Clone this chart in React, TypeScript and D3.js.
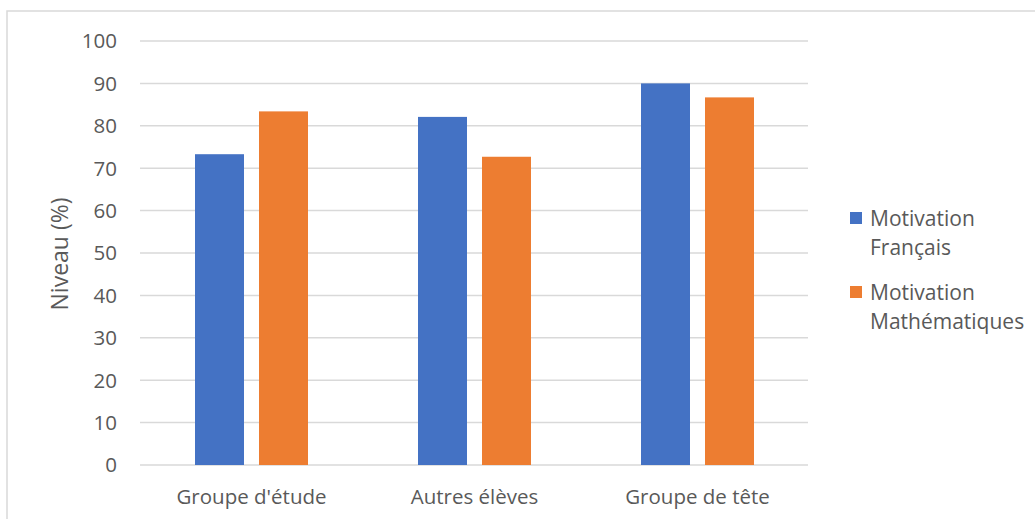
import React from "react";
import * as d3 from "d3";

const categories = ["Groupe d'étude", "Autres élèves", "Groupe de tête"];
const seriesNames = ["Motivation Français", "Motivation Mathématiques"];
const legendLines = [["Motivation", "Français"], ["Motivation", "Mathématiques"]];
const francais = [73.3, 82.1, 90.0];
const maths = [83.4, 72.7, 86.7];
const yTicks = [0, 10, 20, 30, 40, 50, 60, 70, 80, 90, 100];
const colors = ["#4472C4", "#ED7D31"];

const W = 1035;
const H = 519;
const FONT = "'Segoe UI', 'Open Sans', 'Noto Sans', sans-serif";
const TEXT = "#595959";

export default function App() {
  const left = 140;
  const right = 809;
  const top = 41;
  const bottom = 465;
  const x = d3.scaleBand<string>().domain(categories).range([left, right]).paddingInner(0).paddingOuter(0);
  const y = d3.scaleLinear().domain([0, 100]).range([bottom, top]);
  const series = [francais, maths];
  const barW = 49;
  const gap = 15;
  const groupW = barW * 2 + gap;

  return (
    <svg width={W} height={H} style={{ position: "absolute", left: 0, top: 0, display: "block" }}>
      <rect x={0} y={0} width={W} height={H} fill="#fff" />
      <rect x={7} y={11} width={W + 20} height={H + 20} fill="#fff" stroke="#D9D9D9" strokeWidth={1.5} />
      {yTicks.map((t) => (
        <g key={t}>
          <line x1={left} x2={right - 1} y1={y(t)} y2={y(t)} stroke="#D9D9D9" strokeWidth={1.5} />
          <text x={117} y={y(t)} dy="0.36em" textAnchor="end" fontFamily={FONT} fontSize={20.5} fill={TEXT}>
            {t}
          </text>
        </g>
      ))}
      {categories.map((c, i) => {
        const x0 = (x(c) as number) + (x.bandwidth() - groupW) / 2;
        return (
          <g key={c}>
            {series.map((s, j) => (
              <rect
                key={j}
                x={x0 + j * (barW + gap)}
                y={y(s[i])}
                width={barW}
                height={y(0) - y(s[i])}
                fill={colors[j]}
              />
            ))}
            <text
              x={(x(c) as number) + x.bandwidth() / 2}
              y={504}
              textAnchor="middle"
              fontFamily={FONT}
              fontSize={20.5}
              fill={TEXT}
            >
              {c}
            </text>
          </g>
        );
      })}
      <text
        transform={`translate(68,254) rotate(-90)`}
        textAnchor="middle"
        fontFamily={FONT}
        fontSize={23}
        fill={TEXT}
      >
        Niveau (%)
      </text>
      {seriesNames.map((n, j) => {
        const y0 = 212 + j * 74;
        return (
          <g key={n}>
            <rect x={850} y={y0} width={12} height={12} fill={colors[j]} />
            <text x={870} y={y0 + 14} fontFamily={FONT} fontSize={21} fill={TEXT}>
              {legendLines[j][0]}
            </text>
            <text x={870} y={y0 + 43} fontFamily={FONT} fontSize={21} fill={TEXT}>
              {legendLines[j][1]}
            </text>
          </g>
        );
      })}
    </svg>
  );
}
